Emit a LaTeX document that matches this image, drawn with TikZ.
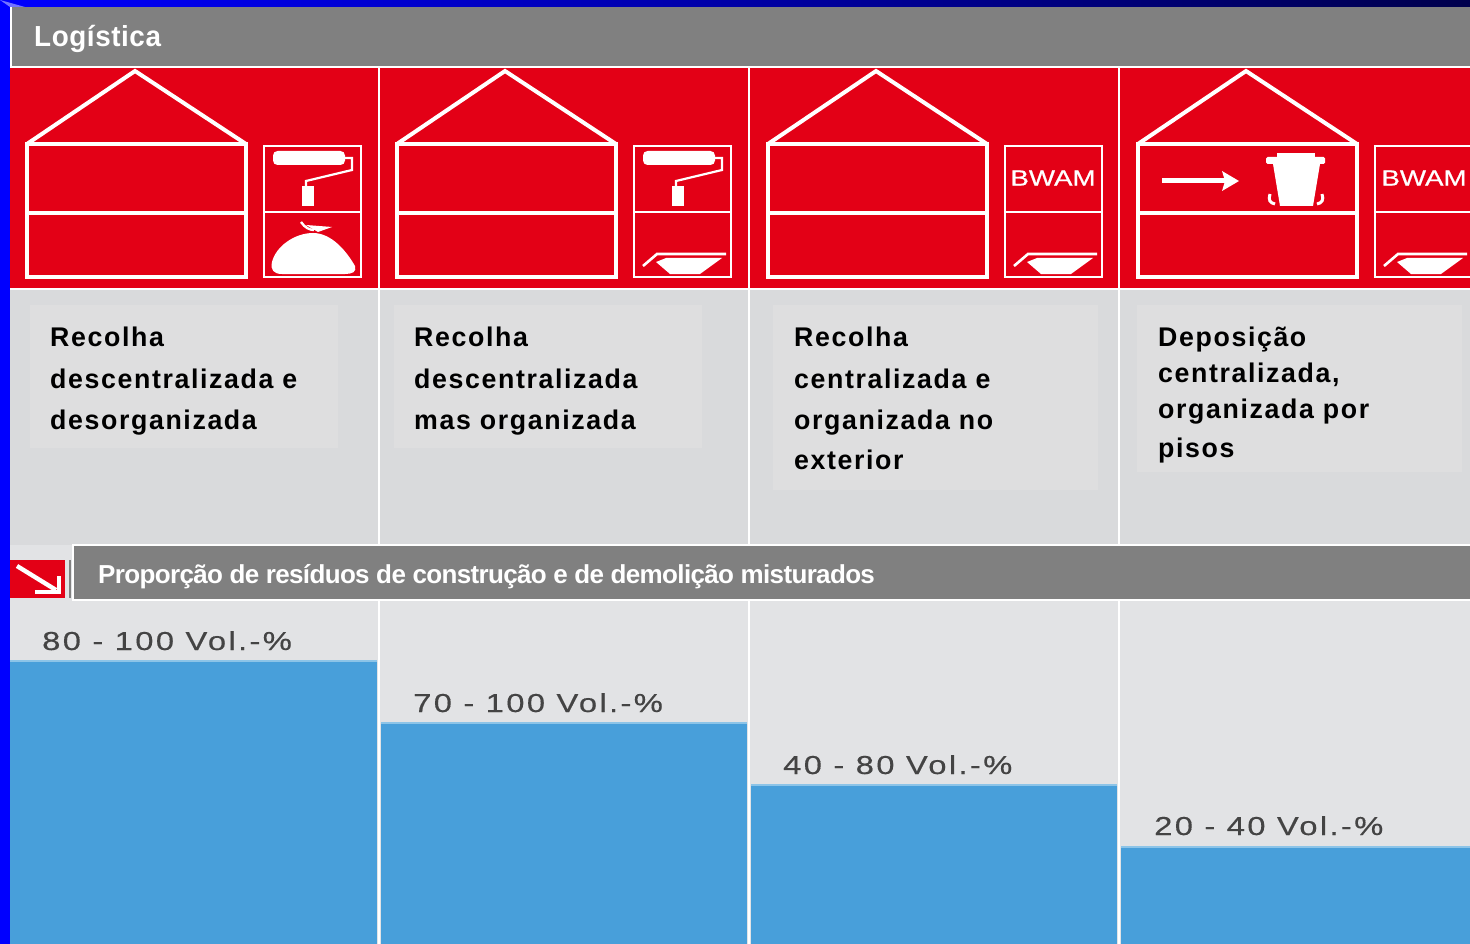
\documentclass[tikz,border=0pt]{standalone}
\usepackage{fontspec}
\setmainfont{Liberation Sans}
\newfontfamily\hdfont[LetterSpace=2,FakeStretch=0.96]{Liberation Sans Bold}
\newfontfamily\subfont[LetterSpace=-2.5]{Liberation Sans Bold}
\newfontfamily\capfont[LetterSpace=6,FakeStretch=0.99]{Liberation Sans Bold}
\newfontfamily\volfont[LetterSpace=9,FakeStretch=1.26,FakeBold=0.4]{Liberation Sans}
\newfontfamily\bwfont[FakeStretch=1.26,FakeBold=0.8]{Liberation Sans}
\definecolor{hdgrey}{HTML}{808080}
\definecolor{brred}{HTML}{E30016}
\definecolor{panel}{HTML}{D9DADC}
\definecolor{boxgrey}{HTML}{DEDEDF}
\definecolor{lower}{HTML}{E2E3E5}
\definecolor{barblue}{HTML}{489FDA}
\definecolor{baredge}{HTML}{8CC4E8}
\definecolor{voltext}{HTML}{444444}
\tikzset{
  x=1pt,y=-1pt,
  houseline/.style={draw=white,line width=4.4pt,line join=miter},
  sideline/.style={draw=white,line width=2.4pt},
  captxt/.style={anchor=base west,inner sep=0pt,text=black,font=\capfont\fontsize{27}{27}\selectfont},
  voltxt/.style={anchor=base west,inner sep=0pt,text=voltext,font=\volfont\fontsize{26}{26}\selectfont},
  hdtxt/.style={anchor=base west,inner sep=0pt,text=white},
  bwtxt/.style={anchor=center,inner sep=0pt,text=white,font=\bwfont\fontsize{22}{22}\selectfont},
}
\newcommand{\housepic}[1]{%
  \begin{scope}[shift={(#1,0)}]
    \draw[houseline] (27,144) rectangle (246,277);
    \draw[houseline] (27,213) -- (246,213);
    \draw[houseline,line width=4pt] (27,144) -- (135,71) -- (246,144);
  \end{scope}}
\newcommand{\sidebox}[1]{%
  \begin{scope}[shift={(#1,0)}]
    \draw[sideline] (0,146) rectangle (97,277);
    \draw[sideline] (0,212) -- (97,212);
  \end{scope}}
\newcommand{\rollerpic}[1]{%
  \begin{scope}[shift={(#1,0)}]
    \fill[white,rounded corners=4.5pt] (9,151) rectangle (81,165);
    \draw[white,line width=2.2pt] (81,158) -- (88,158) -- (88,170) -- (42,181) -- (42,187);
    \fill[white] (38,186) rectangle (50,206);
  \end{scope}}
\newcommand{\traypic}[1]{%
  \begin{scope}[shift={(#1,0)}]
    \draw[white,line width=2.6pt] (9,266) -- (23,254) -- (92,254);
    \fill[white] (22,262) -- (32,258) -- (88,258) -- (66,274) -- (36,274) -- cycle;
  \end{scope}}
\begin{document}
\begin{tikzpicture}
\useasboundingbox (0,0) rectangle (1470,944);
\fill[blue] (0,0) rectangle (1470,944);
\shade[left color=blue,right color=blue!30!black,draw=none] (0,0) rectangle (1470,7);
\fill[blue!55!white] (0,0) -- (25,7) -- (10,7) -- cycle;
% header
\fill[white] (10,7) rectangle (1470,68);
\fill[hdgrey] (12,7) rectangle (1470,66);
\node[hdtxt,font=\hdfont\fontsize{29}{29}\selectfont] (title) at (34,47) {Logística};
% bands
\fill[brred] (10,68) rectangle (1470,288);
\fill[panel] (10,290) rectangle (1470,545);
\fill[lower] (10,600) rectangle (1470,944);
% text boxes
\fill[boxgrey] (30,305) rectangle (338,448);
\fill[boxgrey] (394,305) rectangle (702,448);
\fill[boxgrey] (773,305) rectangle (1098,490);
\fill[boxgrey] (1137,305) rectangle (1462,472);
% blue bars
\fill[barblue] (10,661) rectangle (377,944);
\fill[barblue] (381,723) rectangle (747,944);
\fill[barblue] (751,785) rectangle (1117,944);
\fill[barblue] (1121,847) rectangle (1470,944);
\fill[baredge] (10,660) rectangle (377,662);
\fill[baredge] (381,722) rectangle (747,724);
\fill[baredge] (751,784) rectangle (1117,786);
\fill[baredge] (1121,846) rectangle (1470,848);
% separators
\foreach \sx in {379,749,1119}{\draw[white,line width=2pt] (\sx,68) -- (\sx,944);}
\draw[white,line width=1.5pt] (10,289) -- (1470,289);
% second heading
\fill[lower] (10,545) rectangle (73,600);
\fill[white] (72,544) rectangle (1470,601);
\fill[hdgrey] (74,546) rectangle (1470,599);
\fill[hdgrey] (69,560) rectangle (71,598);
\fill[brred] (10,560) rectangle (65,598);
\draw[white,line width=4.4pt] (17,566) -- (56,590);
\draw[white,line width=3.6pt] (35,592) -- (59,592) -- (59,576);
\node[hdtxt,font=\subfont\fontsize{26}{26}\selectfont] (prop) at (98,583) {Proporção de resíduos de construção e de demolição misturados};
% houses
\housepic{0}\housepic{370}\housepic{741}\housepic{1111}
\sidebox{264}\sidebox{634}\sidebox{1005}\sidebox{1375}
\rollerpic{264}\rollerpic{634}
\traypic{634}\traypic{1005}\traypic{1375}
% bag
\fill[white] (272,262) .. controls (276,246) and (295,233) .. (313,233)
  .. controls (332,233) and (347,252) .. (355,266)
  .. controls (357,272) and (352,274) .. (345,274)
  -- (282,274) .. controls (274,274) and (270,270) .. (272,262) -- cycle;
\draw[white,line width=2.4pt] (301,222) .. controls (305,228) and (310,230) .. (314,230);
\fill[white] (306,225) -- (332,227) -- (318,232) -- cycle;
% bin and arrow
\draw[white,line width=5pt] (1162,181) -- (1225,181);
\fill[white] (1239,181) -- (1222,171) -- (1225,181) -- (1222,191) -- cycle;
\fill[white] (1277,153) rectangle (1315,157);
\fill[white,rounded corners=1.5pt] (1266,157) rectangle (1325,164);
\fill[white] (1273,164) -- (1320,164) -- (1313,206) -- (1280,206) -- cycle;
\draw[white,line width=3pt] (1270,194) .. controls (1268,200) and (1270,203) .. (1275,204);
\draw[white,line width=3pt] (1322,194) .. controls (1324,200) and (1322,203) .. (1317,204);
% BWAM
\node[bwtxt] (bw1) at (1053,178) {BWAM};
\node[bwtxt] (bw2) at (1424,178) {BWAM};
% captions
\node[captxt] (c1a) at (50,346) {Recolha};
\node[captxt] (c1b) at (50,388) {descentralizada e};
\node[captxt] (c1c) at (50,429) {desorganizada};
\node[captxt] (c2a) at (414,346) {Recolha};
\node[captxt] (c2b) at (414,388) {descentralizada};
\node[captxt] (c2c) at (414,429) {mas organizada};
\node[captxt] (c3a) at (794,346) {Recolha};
\node[captxt] (c3b) at (794,388) {centralizada e};
\node[captxt] (c3c) at (794,429) {organizada no};
\node[captxt] (c3d) at (794,469) {exterior};
\node[captxt] (c4a) at (1158,346) {Deposição};
\node[captxt] (c4b) at (1158,382) {centralizada,};
\node[captxt] (c4c) at (1158,418) {organizada por};
\node[captxt] (c4d) at (1158,457) {pisos};
% volumes
\node[voltxt] (v1) at (42,650) {80 - 100 Vol.-\%};
\node[voltxt] (v2) at (413,712) {70 - 100 Vol.-\%};
\node[voltxt] (v3) at (783,774) {40 - 80 Vol.-\%};
\node[voltxt] (v4) at (1154,835) {20 - 40 Vol.-\%};
\end{tikzpicture}
\end{document}
